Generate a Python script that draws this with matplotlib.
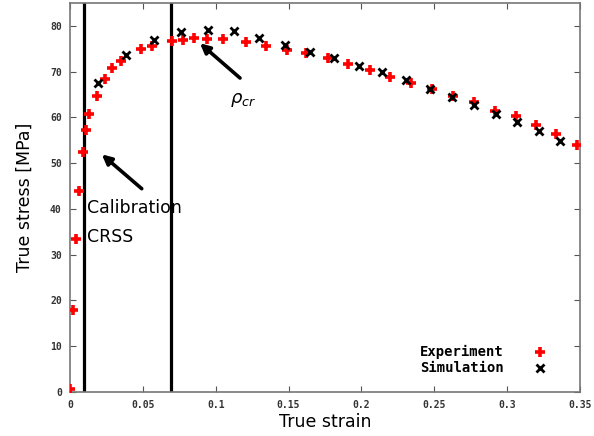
import numpy as np
import matplotlib.pyplot as plt

# experiment: true strain / true stress [MPa]
exp_strain = [0.0, 0.0023, 0.0043, 0.006, 0.0091, 0.0108, 0.013, 0.0183, 0.024, 0.0288,
              0.0348, 0.0487, 0.0563, 0.0702, 0.0773, 0.0853, 0.0938, 0.1048, 0.1206,
              0.1343, 0.1487, 0.162, 0.1773, 0.191, 0.2059, 0.2196, 0.2338, 0.2482,
              0.2627, 0.2773, 0.2917, 0.3061, 0.3203, 0.334, 0.3478]
exp_stress = [0.7, 17.8, 33.5, 43.9, 52.4, 57.2, 60.7, 64.7, 68.4, 70.8,
              72.4, 75.0, 75.7, 76.7, 76.9, 77.3, 77.1, 77.2, 76.4,
              75.6, 74.7, 74.1, 72.9, 71.7, 70.4, 68.8, 67.5, 66.2,
              64.7, 63.3, 61.5, 60.2, 58.3, 56.4, 54.0]

# simulation
sim_strain = [0.0194, 0.0382, 0.0579, 0.0762, 0.0949, 0.1128, 0.1297, 0.1478, 0.1647,
              0.1814, 0.1986, 0.2144, 0.2306, 0.2471, 0.2624, 0.2771, 0.2924, 0.307,
              0.3217, 0.3363]
sim_stress = [67.6, 73.6, 77.0, 78.6, 79.1, 78.8, 77.4, 75.9, 74.3,
              73.0, 71.3, 69.9, 68.2, 66.3, 64.5, 62.8, 60.7, 58.9,
              57.1, 54.9]

calib_lines = [0.0096, 0.069]
xticks = [0, 0.05, 0.1, 0.15, 0.2, 0.25, 0.3, 0.35]
xticklabels = ['0', '0.05', '0.1', '0.15', '0.2', '0.25', '0.3', '0.35']
yticks = [0, 10, 20, 30, 40, 50, 60, 70, 80]

fig = plt.figure(figsize=(5.94, 4.36), dpi=100)
ax = fig.add_axes([0.118, 0.1016, 0.858, 0.8914])

for xv in calib_lines:
    ax.axvline(xv, color='black', lw=2.3, zorder=1)

ax.plot(exp_strain, exp_stress, ls='none', marker='+', ms=7.5, mew=2.6,
        color='#ff0000', label='Experiment', zorder=3)
ax.plot(sim_strain, sim_stress, ls='none', marker='x', ms=6, mew=2.0,
        color='black', label='Simulation', zorder=4)

arrow = dict(arrowstyle='-|>', lw=2.6, color='black', mutation_scale=14,
             shrinkA=0, shrinkB=0)
ax.annotate('', xy=(0.0218, 51.9), xytext=(0.0492, 44.4), arrowprops=arrow)
ax.annotate('', xy=(0.0892, 76.2), xytext=(0.1167, 68.6), arrowprops=arrow)

ax.text(0.0115, 40.1, 'Calibration', fontsize=12.5, va='center', ha='left')
ax.text(0.0115, 33.8, 'CRSS', fontsize=12.5, va='center', ha='left')
ax.text(0.1095, 63.7, r'$\rho_{cr}$', fontsize=13, va='center', ha='left')

ax.set_xlim(0, 0.35)
ax.set_ylim(0, 85)
ax.set_xticks(xticks)
ax.set_xticklabels(xticklabels)
ax.set_yticks(yticks)

mono = dict(family='DejaVu Sans Mono', weight='bold', size=7)
for lab in ax.get_xticklabels() + ax.get_yticklabels():
    lab.set_fontproperties(mono)
    lab.set_color('#333333')

ax.tick_params(direction='in', length=4, width=0.8, top=True, right=True,
               color='#555555', pad=6)
for sp in ax.spines.values():
    sp.set_color('#777777')
    sp.set_linewidth(1.2)

ax.set_xlabel('True strain', fontsize=12.5, labelpad=2)
ax.set_ylabel('True stress [MPa]', fontsize=12.5, labelpad=12)

leg = ax.legend(loc='lower right', frameon=False, markerfirst=False,
                prop=dict(family='DejaVu Sans Mono', weight='bold', size=10),
                handletextpad=1.6, labelspacing=0.15, borderaxespad=0,
                bbox_to_anchor=(0.96, 0.0275))

fig.savefig('out.png', dpi=100)
